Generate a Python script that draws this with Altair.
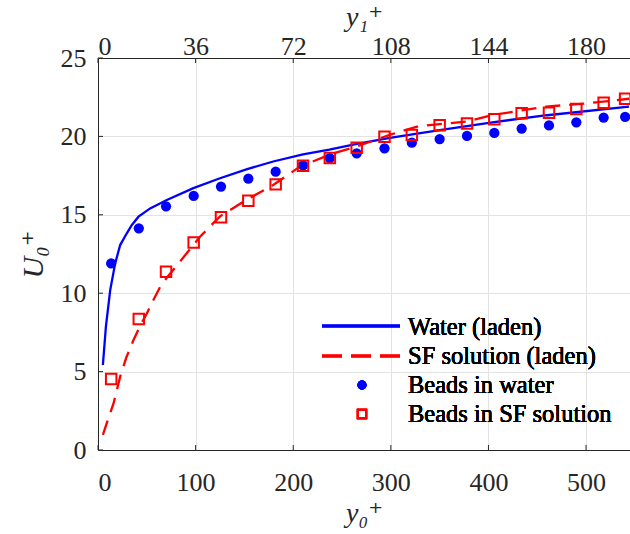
import altair as alt
import pandas as pd

# ---- data ----
water_x = [5, 8.1, 12.5, 17.6, 22.7, 29.5, 34.7, 41.5, 53.4, 70.5, 97.7, 125, 152, 179.5, 210, 237, 264, 299, 350, 404, 460, 544]
water_y = [5.42, 7.87, 10.2, 11.9, 13.07, 13.82, 14.35, 14.88, 15.41, 15.94, 16.7, 17.33, 17.9, 18.4, 18.85, 19.15, 19.5, 19.9, 20.4, 20.9, 21.35, 21.9]

sf_x = [5, 10, 15.9, 22.7, 29, 36.3, 43, 50, 57, 63.6, 70, 77.2, 90.9, 104.5, 125, 152, 179.5, 206.7, 220, 240, 264.7, 298.8, 329, 377, 404, 459, 500, 544]
sf_y = [0.96, 1.9, 2.97, 4.68, 5.9, 7.0, 7.9, 8.7, 9.6, 10.4, 10.95, 11.5, 12.55, 13.6, 14.9, 15.95, 16.9, 18.07, 18.4, 18.9, 19.35, 20.1, 20.66, 20.94, 21.36, 21.9, 22.1, 22.4]

beads_x = [13.5, 41.8, 69.7, 98, 126, 154, 182, 210, 237.5, 265, 293.5, 321.5, 350, 378, 406, 434, 462, 490, 518, 540]
beads_water_y = [11.9, 14.14, 15.54, 16.2, 16.8, 17.3, 17.75, 18.15, 18.62, 18.92, 19.24, 19.6, 19.83, 20.03, 20.22, 20.5, 20.7, 20.9, 21.2, 21.25]
beads_sf_y = [4.53, 8.36, 11.37, 13.24, 14.84, 15.9, 16.94, 18.13, 18.62, 19.28, 19.98, 20.09, 20.71, 20.83, 21.09, 21.47, 21.51, 21.75, 22.15, 22.4]

x_ticks = [0, 100, 200, 300, 400, 500]
y_ticks = [0, 5, 10, 15, 20, 25]
legend_labels = ["Water (laden)", "SF solution (laden)", "Beads in water", "Beads in SF solution"]

X_DOMAIN = [0, 545]
Y_DOMAIN = [0, 25]
W, H = 532, 392
FONT = "Times New Roman, Liberation Serif, DejaVu Serif, serif"
AX = "#262626"
GRID = "#e3e3e3"
BLUE = "#0000ff"
RED = "#ff0000"

water = pd.DataFrame({"x": water_x, "y": water_y})
sf = pd.DataFrame({"x": sf_x, "y": sf_y})
beads = pd.DataFrame({"x": beads_x, "yw": beads_water_y, "ys": beads_sf_y})
xt = pd.DataFrame({"v": x_ticks})
yt = pd.DataFrame({"v": y_ticks})

xscale = alt.Scale(domain=X_DOMAIN, nice=False, zero=False)
yscale = alt.Scale(domain=Y_DOMAIN, nice=False)

xaxis = alt.Axis(values=x_ticks, title="y₀⁺", grid=True, gridColor=GRID, ticks=False,
                 domainColor=AX, labelFont=FONT, labelFontSize=26, labelColor="#262626",
                 labelPadding=19, labelBaseline="top", titleFont=FONT, titleFontSize=28,
                 titleFontStyle="italic", titleFontWeight="normal", titleColor="#262626",
                 titlePadding=4, format="d")
yaxis = alt.Axis(values=y_ticks, title="U₀⁺", grid=True, gridColor=GRID, ticks=False,
                 domainColor=AX, labelFont=FONT, labelFontSize=26, labelColor="#262626",
                 labelPadding=12, titleFont=FONT, titleFontSize=30, titleFontStyle="italic",
                 titleFontWeight="normal", titleColor="#262626", titlePadding=12, format="d")

base_x = alt.X("x:Q", scale=xscale, axis=xaxis)

water_line = alt.Chart(water).mark_line(color=BLUE, strokeWidth=2.3, clip=True).encode(
    x=base_x, y=alt.Y("y:Q", scale=yscale, axis=yaxis))
sf_line = alt.Chart(sf).mark_line(color=RED, strokeWidth=2.3, strokeDash=[15, 9], clip=True).encode(
    x=alt.X("x:Q", scale=xscale), y=alt.Y("y:Q", scale=yscale))
dots = alt.Chart(beads).mark_point(filled=True, shape="circle", size=105, color=BLUE, opacity=1, clip=True).encode(
    x=alt.X("x:Q", scale=xscale), y=alt.Y("yw:Q", scale=yscale))
squares = alt.Chart(beads).mark_point(filled=False, shape="square", size=110, color=RED, strokeWidth=2, opacity=1, clip=True).encode(
    x=alt.X("x:Q", scale=xscale), y=alt.Y("ys:Q", scale=yscale))

# inward ticks (MATLAB style)
bottom_ticks = alt.Chart(xt).mark_rule(color=AX, strokeWidth=1).encode(
    x=alt.X("v:Q", scale=xscale), y=alt.value(H), y2=alt.value(H - 5))
left_ticks = alt.Chart(yt).mark_rule(color=AX, strokeWidth=1).encode(
    y=alt.Y("v:Q", scale=yscale), x=alt.value(0), x2=alt.value(5))

# manual legend
leg_font = dict(font=FONT, fontSize=24.5, color="black", align="left", baseline="alphabetic")
lx0, lx1, tx = 224, 302, 310
leg = [
    alt.Chart(xt).mark_rule(color=BLUE, strokeWidth=2.3).encode(x=alt.value(lx0), x2=alt.value(lx1), y=alt.value(268)),
    alt.Chart(xt).mark_rule(color=RED, strokeWidth=2.3, strokeDash=[20, 9]).encode(x=alt.value(lx0), x2=alt.value(lx1), y=alt.value(298)),
    alt.Chart(xt).mark_point(filled=True, shape="circle", size=80, color=BLUE, opacity=1).encode(x=alt.value(264), y=alt.value(327)),
    alt.Chart(xt).mark_point(filled=False, shape="square", size=70, color=RED, strokeWidth=2, opacity=1).encode(x=alt.value(264), y=alt.value(356)),
]
for lbl, yb in zip(legend_labels, [277, 306, 335, 364]):
    leg.append(alt.Chart(xt).mark_text(text=lbl, **leg_font).encode(x=alt.value(tx), y=alt.value(yb)))

main = alt.layer(water_line, sf_line, dots, squares, bottom_ticks, left_ticks, *leg)

top_axis = alt.Axis(orient="top", values=x_ticks, title="y₁⁺", grid=False, ticks=False,
                    domainColor=AX, labelFont=FONT, labelFontSize=26, labelColor="#262626",
                    labelBaseline="alphabetic", labelPadding=4,
                    labelExpr="format(datum.value*0.36, 'd')", titleFont=FONT, titleFontSize=28,
                    titleFontStyle="italic", titleFontWeight="normal", titleColor="#262626",
                    titlePadding=2)
top_ticks = alt.Chart(xt).mark_rule(color=AX, strokeWidth=1).encode(
    x=alt.X("v:Q", scale=alt.Scale(domain=X_DOMAIN, nice=False, zero=False), axis=top_axis),
    y=alt.value(0), y2=alt.value(5))

chart = alt.layer(main, top_ticks).resolve_scale(x="independent").properties(
    width=W, height=H,
    autosize=alt.AutoSizeParams(type="none"),
    padding={"left": 98, "top": 58, "right": 0, "bottom": 84},
).configure_view(stroke=None).configure(background="white")

chart.save("out.html", embed_options={"renderer": "svg", "actions": False})
